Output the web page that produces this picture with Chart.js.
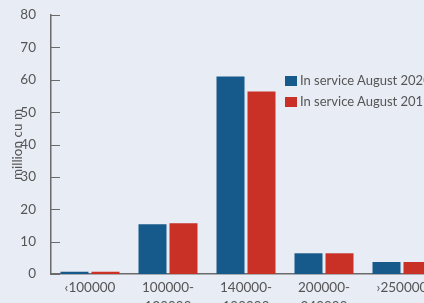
<!DOCTYPE html>
<html>
<head>
<meta charset="utf-8">
<script src="https://cdn.jsdelivr.net/npm/chart.js@4/dist/chart.umd.min.js"></script>
<style>
  html, body { margin: 0; padding: 0; background: #e8ecf5; overflow: hidden; }
  #wrap { position: relative; width: 445px; height: 320px; }
  #legend { position: absolute; left: 285px; top: 71px; font-family: Lato, sans-serif; font-size: 13px; color: #555; }
  #legend div { height: 21px; line-height: 19px; white-space: nowrap; }
  #legend span { display: inline-block; width: 12px; height: 10px; margin-right: 3px; vertical-align: -1px; }
</style>
</head>
<body>
<div id="wrap">
  <canvas id="chart" width="445" height="320"></canvas>
  <div id="legend"></div>
</div>
<script>
const categories = [['\u2039100000'], ['100000-', '139999'], ['140000-', '199999'], ['200000-', '249999'], ['\u203a250000']];
const seriesNames = ['In service August 2020', 'In service August 2019'];
const values2020 = [0.7, 15.4, 61.0, 6.4, 3.7];
const values2019 = [0.7, 15.7, 56.4, 6.4, 3.7];
const colors = ['#155a8a', '#c93026'];

// short tick marks pointing into the plot, like the original
const innerTicks = {
  id: 'innerTicks',
  afterDraw(chart) {
    const y = chart.scales.y;
    const ctx = chart.ctx;
    ctx.save();
    ctx.strokeStyle = '#6b6b6b';
    ctx.lineWidth = 1;
    y.ticks.forEach(t => {
      const py = Math.round(y.getPixelForValue(t.value)) + 0.5;
      ctx.beginPath();
      ctx.moveTo(chart.chartArea.left, py);
      ctx.lineTo(chart.chartArea.left + 9, py);
      ctx.stroke();
    });
    ctx.restore();
  }
};

new Chart(document.getElementById('chart'), {
  type: 'bar',
  data: {
    labels: categories,
    datasets: [
      { label: seriesNames[0], data: values2020, backgroundColor: colors[0] },
      { label: seriesNames[1], data: values2019, backgroundColor: colors[1] }
    ]
  },
  options: {
    responsive: false,
    animation: false,
    layout: { padding: { top: 9, right: 4, left: 0, bottom: 0 } },
    datasets: { bar: { categoryPercentage: 0.795, barPercentage: 0.903 } },
    plugins: { legend: { display: false }, tooltip: { enabled: false } },
    scales: {
      x: {
        grid: { display: false },
        border: { color: '#6b6b6b', width: 1.5 },
        ticks: { color: '#555', font: { family: 'Lato', size: 13.5, lineHeight: 1.35 }, padding: -3, maxRotation: 0 },
        afterFit(s) { s.height = 46; }
      },
      y: {
        min: 0, max: 80,
        grid: { display: false },
        border: { color: '#6b6b6b', width: 1.5 },
        ticks: { stepSize: 10, color: '#555', font: { family: 'Lato', size: 13.5 }, padding: 7 },
        title: { display: true, text: 'million cu m', color: '#555', font: { family: 'Lato', size: 13.5 }, padding: { top: 10, bottom: 0 } },
        afterFit(s) { s.width = 51; }
      }
    }
  },
  plugins: [innerTicks]
});

const legend = document.getElementById('legend');
seriesNames.forEach((name, i) => {
  legend.innerHTML += '<div><span style="background:' + colors[i] + '"></span>' + name + '</div>';
});
</script>
</body>
</html>
